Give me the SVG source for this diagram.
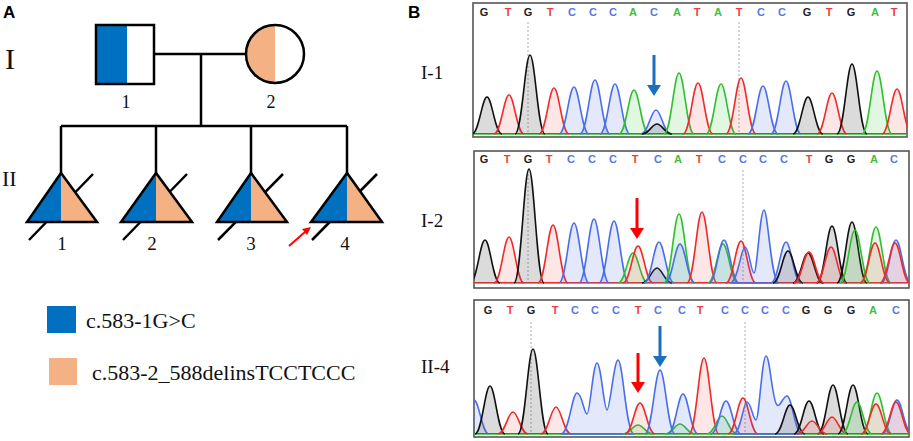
<svg xmlns="http://www.w3.org/2000/svg" xmlns:xlink="http://www.w3.org/1999/xlink" width="913" height="441" viewBox="0 0 913 441">
<style>
.ln{stroke:#000;stroke-width:2.5;fill:none}
.ol{stroke:#000;stroke-width:2.5;fill:none;stroke-linejoin:miter}
.bl{fill:#0070c0}
.pc{fill:#f4b183}
.ser{font-family:"Liberation Serif","Times New Roman",serif;fill:#111}
.hd{font-family:"Liberation Sans",Arial,sans-serif;font-weight:bold;font-size:17px;fill:#000}
.box{fill:#fff;stroke:#555;stroke-width:1.6}
.lt{font-family:"Liberation Sans",Arial,sans-serif;font-size:11px;text-anchor:middle;font-weight:600}
.tG{fill:#222}.tT{fill:#f03c3c}.tC{fill:#5a78e6}.tA{fill:#3cc03c}
.k{fill:rgba(90,90,90,0.22);stroke:#111}
.r{fill:rgba(240,60,60,0.13);stroke:#f02a2a}
.b{fill:rgba(80,110,230,0.16);stroke:#4a6ee8}
.g{fill:rgba(50,200,50,0.14);stroke:#2fbf2f}
.dot{stroke:#aaa;stroke-width:1;stroke-dasharray:2 2}
</style>
<defs>
<path id="p" d="M-15,0 C-8,0 -5,-1 0,-1 C5,-1 8,0 15,0" vector-effect="non-scaling-stroke" stroke-width="1.6"/>
<clipPath id="c1"><rect x="473" y="3" width="434" height="134"/></clipPath>
<clipPath id="c2"><rect x="474" y="151" width="435" height="137"/></clipPath>
<clipPath id="c3"><rect x="474" y="300" width="435" height="137"/></clipPath>
</defs>

<text class="hd" x="3" y="18">A</text>
<text class="hd" x="408" y="18">B</text>
<text class="ser" x="5" y="69" font-size="30">I</text>
<text class="ser" x="2" y="186" font-size="22">II</text>

<g id="connectors">
<line class="ln" x1="154" y1="54" x2="246" y2="54"/>
<line class="ln" x1="201" y1="54" x2="201" y2="126"/>
<line class="ln" x1="61" y1="126" x2="347" y2="126"/>
<line class="ln" x1="61" y1="126" x2="61" y2="173"/>
<line class="ln" x1="156" y1="126" x2="156" y2="173"/>
<line class="ln" x1="251" y1="126" x2="251" y2="173"/>
<line class="ln" x1="347" y1="126" x2="347" y2="173"/>
</g>

<g id="I-1">
<rect class="bl" x="96" y="25" width="31" height="59"/>
<rect class="ol" x="96" y="25" width="58" height="59"/>
<text class="ser" x="126" y="108" font-size="18" text-anchor="middle">1</text>
</g>
<g id="I-2">
<path class="pc" d="M275,25 A29,29 0 0 0 275,83 Z"/>
<circle class="ol" cx="275" cy="54" r="29"/>
<text class="ser" x="271" y="108" font-size="18" text-anchor="middle">2</text>
</g>

<g id="II-1">
<line class="ln" x1="29" y1="240" x2="93" y2="174"/>
<polygon class="bl" points="61,173 27,222 61,222"/>
<polygon class="pc" points="61,173 61,222 97,222"/>
<polygon class="ol" points="61,173 27,222 97,222"/>
<text class="ser" x="62" y="250" font-size="19" text-anchor="middle">1</text>
</g>
<g id="II-2">
<line class="ln" x1="123" y1="240" x2="187" y2="174"/>
<polygon class="bl" points="156,173 121,222 156,222"/>
<polygon class="pc" points="156,173 156,222 192,222"/>
<polygon class="ol" points="156,173 121,222 192,222"/>
<text class="ser" x="152" y="250" font-size="19" text-anchor="middle">2</text>
</g>
<g id="II-3">
<line class="ln" x1="218" y1="240" x2="283" y2="174"/>
<polygon class="bl" points="251,173 217,222 251,222"/>
<polygon class="pc" points="251,173 251,222 287,222"/>
<polygon class="ol" points="251,173 217,222 287,222"/>
<text class="ser" x="251" y="250" font-size="19" text-anchor="middle">3</text>
</g>
<g id="II-4">
<line class="ln" x1="312" y1="240" x2="377" y2="174"/>
<polygon class="bl" points="347,173 311,222 347,222"/>
<polygon class="pc" points="347,173 347,222 382,222"/>
<polygon class="ol" points="347,173 311,222 382,222"/>
<text class="ser" x="345" y="250" font-size="19" text-anchor="middle">4</text>
<line x1="289" y1="246" x2="305" y2="232" stroke="#f00" stroke-width="2"/>
<polygon points="311,227 302,229 307,235" fill="#f00"/>
</g>

<g id="legend">
<rect class="bl" x="47" y="306" width="29" height="27"/>
<text class="ser" x="86" y="328" font-size="22">c.583-1G&gt;C</text>
<rect class="pc" x="49" y="358" width="28" height="27"/>
<text class="ser" x="92" y="380" font-size="22">c.583-2_588delinsTCCTCCC</text>
</g>

<text class="ser" x="421" y="79" font-size="19">I-1</text>
<text class="ser" x="421" y="227" font-size="19">I-2</text>
<text class="ser" x="421" y="373" font-size="19">II-4</text>

<!-- Panel 1 -->
<g id="panel1">
<rect class="box" x="473" y="3" width="434" height="134"/>
<g class="lt">
<text class="tG" x="484" y="16">G</text><text class="tT" x="508" y="16">T</text><text class="tG" x="528" y="16">G</text><text class="tT" x="550" y="16">T</text><text class="tC" x="572" y="16">C</text><text class="tC" x="593" y="16">C</text><text class="tC" x="613" y="16">C</text><text class="tA" x="633" y="16">A</text><text class="tC" x="654" y="16">C</text><text class="tA" x="677" y="16">A</text><text class="tT" x="697" y="16">T</text><text class="tA" x="718" y="16">A</text><text class="tT" x="739" y="16">T</text><text class="tC" x="761" y="16">C</text><text class="tC" x="782" y="16">C</text><text class="tG" x="807" y="16">G</text><text class="tT" x="829" y="16">T</text><text class="tG" x="851" y="16">G</text><text class="tA" x="875" y="16">A</text><text class="tT" x="894" y="16">T</text>
</g>
<line class="dot" x1="528" y1="22" x2="528" y2="133"/>
<line class="dot" x1="739" y1="22" x2="739" y2="133"/>
<g clip-path="url(#c1)">
<line x1="473" y1="134" x2="907" y2="134" stroke="#2fbf2f" stroke-width="1.5"/>
<line x1="473" y1="133.5" x2="907" y2="133.5" stroke="#f02a2a" stroke-width="1.2"/>
<use href="#p" class="k" transform="translate(487,134) scale(1,37)"/>
<use href="#p" class="r" transform="translate(509,134) scale(1,39)"/>
<use href="#p" class="k" transform="translate(530,134) scale(1,79)"/>
<use href="#p" class="r" transform="translate(554,134) scale(1,46)"/>
<use href="#p" class="b" transform="translate(574,134) scale(1,47)"/>
<use href="#p" class="b" transform="translate(595,134) scale(1,54)"/>
<use href="#p" class="b" transform="translate(615,134) scale(1,50)"/>
<use href="#p" class="g" transform="translate(634,134) scale(1,44)"/>
<use href="#p" class="b" transform="translate(656,134) scale(1,24)"/>
<use href="#p" class="k" transform="translate(657,134) scale(1,10)"/>
<use href="#p" class="g" transform="translate(679,134) scale(1,61)"/>
<use href="#p" class="r" transform="translate(698,134) scale(1,51)"/>
<use href="#p" class="g" transform="translate(721,134) scale(1,50)"/>
<use href="#p" class="r" transform="translate(741,134) scale(1,56)"/>
<use href="#p" class="b" transform="translate(763,134) scale(1,48)"/>
<use href="#p" class="b" transform="translate(786,134) scale(1,53)"/>
<use href="#p" class="k" transform="translate(808,134) scale(1,37)"/>
<use href="#p" class="r" transform="translate(832,134) scale(1,41)"/>
<use href="#p" class="k" transform="translate(852,134) scale(1,70)"/>
<use href="#p" class="g" transform="translate(877,134) scale(1,63)"/>
<use href="#p" class="r" transform="translate(897,134) scale(1,45)"/>
</g>
<line x1="654" y1="55" x2="654" y2="86" stroke="#1a6fbf" stroke-width="3"/>
<polygon points="647,85 661,85 654,96" fill="#1a6fbf"/>
</g>

<!-- Panel 2 -->
<g id="panel2">
<rect class="box" x="474" y="151" width="435" height="137"/>
<g class="lt">
<text class="tG" x="484" y="163">G</text><text class="tT" x="507" y="163">T</text><text class="tG" x="528" y="163">G</text><text class="tT" x="549" y="163">T</text><text class="tC" x="571" y="163">C</text><text class="tC" x="592" y="163">C</text><text class="tC" x="613" y="163">C</text><text class="tT" x="635" y="163">T</text><text class="tC" x="658" y="163">C</text><text class="tA" x="678" y="163">A</text><text class="tT" x="699" y="163">T</text><text class="tC" x="722" y="163">C</text><text class="tC" x="743" y="163">C</text><text class="tC" x="763" y="163">C</text><text class="tC" x="784" y="163">C</text><text class="tT" x="809" y="163">T</text><text class="tG" x="829" y="163">G</text><text class="tG" x="851" y="163">G</text><text class="tA" x="874" y="163">A</text><text class="tC" x="894" y="163">C</text>
</g>
<line class="dot" x1="528" y1="170" x2="528" y2="282"/>
<line class="dot" x1="743" y1="170" x2="743" y2="282"/>
<g clip-path="url(#c2)">
<line x1="474" y1="283" x2="909" y2="283" stroke="#2fbf2f" stroke-width="1.5"/>
<line x1="474" y1="282.5" x2="909" y2="282.5" stroke="#f02a2a" stroke-width="1.2"/>
<use href="#p" class="k" transform="translate(485,283) scale(1,43)"/>
<use href="#p" class="r" transform="translate(509,283) scale(1,46)"/>
<use href="#p" class="k" transform="translate(529,283) scale(1,114)"/>
<use href="#p" class="r" transform="translate(553,283) scale(1,58)"/>
<use href="#p" class="b" transform="translate(574,283) scale(1,60)"/>
<use href="#p" class="b" transform="translate(594,283) scale(1,64)"/>
<use href="#p" class="b" transform="translate(614,283) scale(1,62)"/>
<use href="#p" class="g" transform="translate(633,283) scale(1,30)"/>
<use href="#p" class="r" transform="translate(638,283) scale(1,37)"/>
<use href="#p" class="k" transform="translate(657,283) scale(1,15)"/>
<use href="#p" class="b" transform="translate(659,283) scale(1,41)"/>
<use href="#p" class="g" transform="translate(679,283) scale(1,69)"/>
<use href="#p" class="b" transform="translate(680,283) scale(1,39)"/>
<use href="#p" class="r" transform="translate(702,283) scale(1,71)"/>
<use href="#p" class="g" transform="translate(723,283) scale(1,39)"/>
<use href="#p" class="b" transform="translate(724,283) scale(1,43)"/>
<use href="#p" class="r" transform="translate(741,283) scale(1,42)"/>
<path class="b" stroke-width="1.6" d="M730,283 C738,283 741,247 745,247 C749,247 751,273 754,273 C757,273 760,210 764,210 C768,210 771,283 779,283 Z"/>
<use href="#p" class="b" transform="translate(786,283) scale(1,41)"/>
<use href="#p" class="k" transform="translate(788,283) scale(1,32)"/>
<use href="#p" class="k" transform="translate(808,283) scale(1,30)"/>
<use href="#p" class="r" transform="translate(809,283) scale(1,31)"/>
<use href="#p" class="k" transform="translate(832,283) scale(1,57)"/>
<use href="#p" class="r" transform="translate(831,283) scale(1,36)"/>
<use href="#p" class="k" transform="translate(852,283) scale(1,61)"/>
<use href="#p" class="g" transform="translate(855,283) scale(1,53)"/>
<use href="#p" class="g" transform="translate(876,283) scale(1,56)"/>
<use href="#p" class="r" transform="translate(875,283) scale(1,40)"/>
<use href="#p" class="b" transform="translate(896,283) scale(1,43)"/>
<use href="#p" class="r" transform="translate(895,283) scale(1,40)"/>
</g>
<line x1="637" y1="198" x2="637" y2="229" stroke="#f00" stroke-width="3"/>
<polygon points="630,228 644,228 637,239" fill="#f00"/>
</g>

<!-- Panel 3 -->
<g id="panel3">
<rect class="box" x="474" y="300" width="435" height="137"/>
<g class="lt">
<text class="tG" x="488" y="314">G</text><text class="tT" x="510" y="314">T</text><text class="tG" x="531" y="314">G</text><text class="tT" x="555" y="314">T</text><text class="tC" x="575" y="314">C</text><text class="tC" x="595" y="314">C</text><text class="tC" x="616" y="314">C</text><text class="tT" x="638" y="314">T</text><text class="tC" x="658" y="314">C</text><text class="tC" x="682" y="314">C</text><text class="tT" x="700" y="314">T</text><text class="tC" x="725" y="314">C</text><text class="tC" x="745" y="314">C</text><text class="tC" x="765" y="314">C</text><text class="tC" x="786" y="314">C</text><text class="tG" x="806" y="314">G</text><text class="tG" x="828" y="314">G</text><text class="tG" x="851" y="314">G</text><text class="tA" x="873" y="314">A</text><text class="tC" x="896" y="314">C</text>
</g>
<line class="dot" x1="531" y1="322" x2="531" y2="433"/>
<line class="dot" x1="745" y1="322" x2="745" y2="433"/>
<g clip-path="url(#c3)">
<line x1="474" y1="434" x2="909" y2="434" stroke="#2fbf2f" stroke-width="1.5"/>
<line x1="474" y1="433.5" x2="909" y2="433.5" stroke="#f02a2a" stroke-width="1.2"/>
<use href="#p" class="b" transform="translate(474,434) scale(1,34)"/>
<use href="#p" class="k" transform="translate(490,434) scale(1,48)"/>
<use href="#p" class="r" transform="translate(513,434) scale(1,22)"/>
<use href="#p" class="k" transform="translate(533,434) scale(1,85)"/>
<use href="#p" class="r" transform="translate(556,434) scale(1,27)"/>
<path class="b" stroke-width="1.6" d="M561,434 C569,434 572,393 577,393 C582,393 584,414 587,414 C590,414 593,363 597,363 C601,363 604,410 607,410 C610,410 614,360 618,360 C623,360 626,434 634,434 Z"/>
<use href="#p" class="g" transform="translate(638,434) scale(1,9)"/>
<use href="#p" class="r" transform="translate(640,434) scale(1,31)"/>
<use href="#p" class="b" transform="translate(660,434) scale(1,64)"/>
<use href="#p" class="g" transform="translate(680,434) scale(1,10)"/>
<use href="#p" class="b" transform="translate(683,434) scale(1,40)"/>
<use href="#p" class="r" transform="translate(704,434) scale(1,76)"/>
<use href="#p" class="g" transform="translate(722,434) scale(1,18)"/>
<use href="#p" class="b" transform="translate(726,434) scale(1,33)"/>
<use href="#p" class="r" transform="translate(743,434) scale(1,36)"/>
<path class="b" stroke-width="1.6" d="M733,434 C741,434 743,402 747,402 C751,402 753,420 756,420 C759,420 762,356 766,356 C770,356 772,400 777,405 C780,408 783,396 787,396 C792,396 795,434 802,434 Z"/>
<use href="#p" class="k" transform="translate(790,434) scale(1,29)"/>
<use href="#p" class="k" transform="translate(809,434) scale(1,33)"/>
<use href="#p" class="r" transform="translate(812,434) scale(1,13)"/>
<use href="#p" class="k" transform="translate(833,434) scale(1,49)"/>
<use href="#p" class="r" transform="translate(832,434) scale(1,17)"/>
<use href="#p" class="k" transform="translate(853,434) scale(1,49)"/>
<use href="#p" class="g" transform="translate(857,434) scale(1,32)"/>
<use href="#p" class="g" transform="translate(877,434) scale(1,41)"/>
<use href="#p" class="r" transform="translate(876,434) scale(1,30)"/>
<use href="#p" class="b" transform="translate(897,434) scale(1,34)"/>
<use href="#p" class="r" transform="translate(896,434) scale(1,32)"/>
</g>
<line x1="638" y1="353" x2="638" y2="383" stroke="#f00" stroke-width="3"/>
<polygon points="631,382 645,382 638,393" fill="#f00"/>
<line x1="660" y1="326" x2="660" y2="357" stroke="#1a6fbf" stroke-width="3"/>
<polygon points="653,356 667,356 660,367" fill="#1a6fbf"/>
</g>
</svg>
